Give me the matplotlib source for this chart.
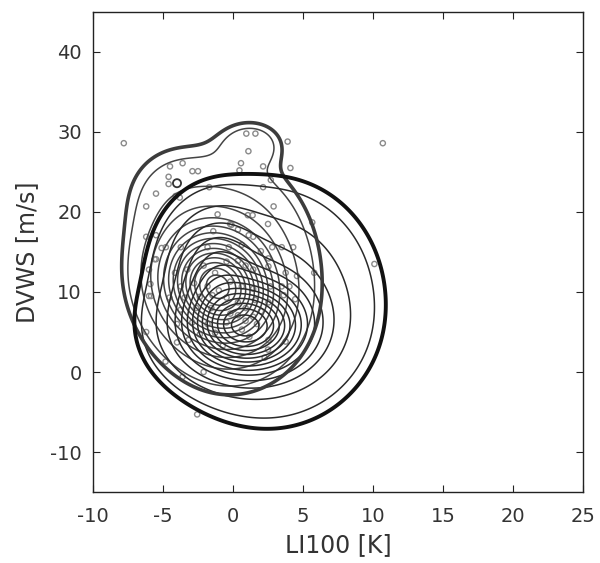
import numpy as np
import matplotlib
matplotlib.use('Agg')
import matplotlib.pyplot as plt

plt.rcParams['font.family'] = ['DejaVu Sans']
plt.rcParams['axes.unicode_minus'] = False

# ---------------- data ----------------
# gray sample (shown as open circles)
pts_x = [-7.8, 10.7, 0.95, 1.6, 1.1, 3.9, -4.5, -3.6, -2.9, -2.5, 0.46, 0.57, 2.15, 4.1,
         -4.6, -4.6, -1.7, 2.15, 2.7, -5.5, -4.1, -3.8, -6.2, 2.9, -1.1, 1.06, 1.4, 5.66,
         -0.2, 2.5, -6.2, -5.5, 1.44, -5.1, -4.8, 4.3, -5.6, -5.5, -6.0, -5.9, -6.0, -5.85,
         5.8, 10.1, -6.2, -4.0, 2.5, 2.26, -3.6, -2.1, -2.56,
         -1.41, -0.11, 0.35, -3.73, -1.82, -0.30, 0.63, 1.12, 1.99, 2.80, 2.53, 3.48,
         -4.14, -3.27, -2.10, -1.28, -0.46, 0.35, 0.90, 1.44, 2.53, 3.76, 4.57,
         -3.73, -2.78, -1.82, -1.01, -0.19, 0.63, 1.44, 2.67, 3.48, 4.03,
         -4.54, -3.46, -2.37, -1.47, -0.46, 0.35, 1.58, 2.53, 3.62, 4.44,
         -3.73, -2.64, -1.55, -0.19, 0.90, 1.99,
         -4.0, -2.91, -1.82, -0.46, 0.35, 0.90, 1.44, 1.71, 0.63, -1.28, -2.37, -3.18,
         -0.73, 1.17, 2.53, 3.76, -4.82]
pts_y = [28.6, 28.6, 29.8, 29.8, 27.6, 28.8, 25.7, 26.1, 25.1, 25.1, 25.2, 26.1, 25.7, 25.5,
         24.4, 23.5, 23.1, 23.1, 24.0, 22.3, 22.0, 21.8, 20.7, 20.7, 19.7, 19.6, 19.6, 18.7,
         18.5, 18.5, 16.9, 17.1, 16.9, 15.5, 15.6, 15.6, 14.1, 14.1, 12.8, 11.0, 9.5, 9.5,
         12.4, 13.5, 5.0, 3.7, 2.8, 1.8, -0.6, 0.0, -5.3,
         17.6, 18.4, 17.8, 15.6, 15.6, 15.6, 15.9, 17.1, 15.1, 15.6, 14.2, 15.6,
         12.4, 12.8, 13.3, 12.4, 13.8, 13.9, 13.3, 12.8, 13.2, 12.4, 12.0,
         10.7, 11.1, 10.7, 10.2, 11.3, 10.7, 10.4, 10.7, 10.7, 10.7,
         9.3, 9.3, 9.4, 9.6, 9.3, 8.7, 9.0, 8.7, 9.6, 9.1,
         7.8, 8.0, 8.0, 7.3, 8.0, 7.6,
         6.0, 6.2, 6.0, 6.2, 7.1, 6.4, 6.9, 6.0, 5.3, 4.9, 4.7, 4.0,
         3.3, 4.4, 4.0, 3.8, 1.3]
marked_x = [-4.0]
marked_y = [23.6]

# density models: centre x, centre y, sigma x, sigma y, correlation, peak weight
gray_cx = [-1.2, -0.3, 1.3, -4.5]
gray_cy = [10.5, 12.5, 28.5, 22.0]
gray_sx = [2.4, 3.2, 1.45, 2.4]
gray_sy = [4.2, 7.3, 1.9, 4.5]
gray_rho = [-0.15, 0.0, 0.0, 0.0]
gray_w = [1.0, 0.29, 0.075, 0.055]

black_cx = [0.8, 2.6, -1.5]
black_cy = [5.5, 8.8, 13.5]
black_sx = [2.8, 4.1, 2.0]
black_sy = [3.6, 7.8, 4.5]
black_rho = [0.0, 0.0, 0.0]
black_w = [1.0, 0.29, 0.25]

outer_level = 0.03
second_level = 0.045
inner_levels = np.linspace(0.1, 0.95, 13)


def mixture(X, Y, cx, cy, sx, sy, rho, w):
    """Sum of 2-D gaussians, each weight is its peak height, result scaled to max 1"""
    Z = np.zeros_like(X)
    for i in range(len(cx)):
        dx = (X - cx[i]) / sx[i]
        dy = (Y - cy[i]) / sy[i]
        q = (dx**2 - 2 * rho[i] * dx * dy + dy**2) / (1 - rho[i]**2)
        Z += w[i] * np.exp(-0.5 * q)
    return Z / Z.max()


gx = np.linspace(-12, 27, 400)
gy = np.linspace(-17, 47, 500)
X, Y = np.meshgrid(gx, gy)
Zg = mixture(X, Y, gray_cx, gray_cy, gray_sx, gray_sy, gray_rho, gray_w)
Zb = mixture(X, Y, black_cx, black_cy, black_sx, black_sy, black_rho, black_w)

# ---------------- plotting ----------------
fig = plt.figure(figsize=(6.0, 5.63), dpi=100)
ax = fig.add_axes([0.155, 0.1261, 0.8167, 0.8526])

ax.scatter(pts_x, pts_y, s=14, facecolors='none', edgecolors='#8a8a8a', linewidths=1.0, zorder=1)
ax.scatter(marked_x, marked_y, s=34, facecolors='none', edgecolors='#333333', linewidths=1.3, zorder=1)

ax.contour(X, Y, Zg, levels=[second_level] + list(inner_levels), colors='#444444', linewidths=1.1, zorder=2)
ax.contour(X, Y, Zb, levels=[second_level] + list(inner_levels), colors='#2a2a2a', linewidths=1.1, zorder=2)
ax.contour(X, Y, Zg, levels=[outer_level], colors='#3c3c3c', linewidths=2.6, zorder=3)
ax.contour(X, Y, Zb, levels=[outer_level], colors='#111111', linewidths=2.8, zorder=3)

ax.set_xlim(-10, 25)
ax.set_ylim(-15, 45)
ax.set_xticks(np.arange(-10, 26, 5))
ax.set_yticks(np.arange(-10, 41, 10))
ax.tick_params(direction='in', top=True, right=True, length=5, labelsize=14, colors='#222222', pad=8)
ax.tick_params(axis='x', labelcolor='#333333', pad=11)
ax.tick_params(axis='y', labelcolor='#333333')
for s in ax.spines.values():
    s.set_linewidth(1.0)
    s.set_color('#222222')
ax.set_xlabel('LI100 [K]', fontsize=17, color='#333333', labelpad=5)
ax.set_ylabel('DVWS [m/s]', fontsize=17, color='#333333', labelpad=8)

fig.savefig('out.png', dpi=100)
